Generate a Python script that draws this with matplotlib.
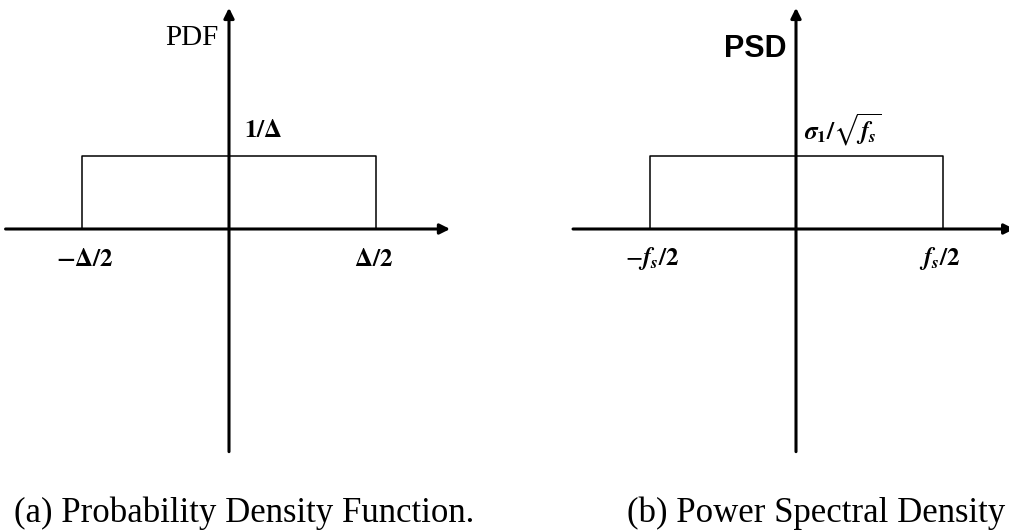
import matplotlib
matplotlib.use("Agg")
from matplotlib import pyplot as plt

plt.rcParams["mathtext.fontset"] = "stix"

# rectangle edges (in units of delta / fs) and level
pdf_edges = [-0.5, 0.5]
pdf_level = 1.0
psd_edges = [-0.5, 0.5]
psd_level = 1.0

pdf_ticks = [r"$\mathbf{-\Delta/2}$", r"$\mathbf{\Delta/2}$"]
psd_ticks = [r"$-\mathbfit{f}_\mathbfit{s}\mathbf{/2}$", r"$\mathbfit{f}_\mathbfit{s}\mathbf{/2}$"]
pdf_level_label = r"$\mathbf{1/\Delta}$"
psd_level_label = r"$\mathbfit{\sigma}_\mathbf{1}\mathbf{/}\sqrt{\mathbfit{f}_\mathbfit{s}}$"
captions = ["(a) Probability Density Function.", "(b) Power Spectral Density"]

W, H = 1009, 531


def arrow(ax, start, end):
    ax.annotate("", xy=end, xytext=start,
                arrowprops=dict(arrowstyle="-|>", lw=2.2, color="k",
                                mutation_scale=15, shrinkA=0, shrinkB=0),
                annotation_clip=False)


def panel(ax, edges, level, ticks, level_label, label_x, xmin, xmax):
    x = [edges[0], edges[0], edges[1], edges[1]]
    y = [0, level, level, 0]
    ax.plot(x, y, color="k", lw=1.1)
    arrow(ax, (xmin, 0), (xmax, 0))
    arrow(ax, (0, -3.05), (0, 3.03))
    for e, t in zip(edges, ticks):
        ax.text(e * 0.98, -0.41, t, fontsize=18, ha="center", va="center")
    ax.text(label_x, level + 0.36, level_label, fontsize=18, ha="left", va="center")
    ax.axis("off")


fig = plt.figure(figsize=(W / 100, H / 100), dpi=100)

# left panel: pixels x 0..460, y 0..460 ; origin at (229, 229), 294 px/unit in x, 73 px/unit in y
ax1 = fig.add_axes([0, (H - 460) / H, 460 / W, 460 / H])
ax1.set_xlim((0 - 229) / 294, (460 - 229) / 294)
ax1.set_ylim((229 - 460) / 73, 229 / 73)
panel(ax1, pdf_edges, pdf_level, pdf_ticks, pdf_level_label, 0.05, -0.76, 0.752)
ax1.text(-0.037, 2.52, "PDF", fontsize=21, family="Liberation Serif", ha="right", va="baseline")

# right panel: pixels x 560..1009 ; origin at (796, 229)
ax2 = fig.add_axes([560 / W, (H - 460) / H, 449 / W, 460 / H])
ax2.set_xlim((560 - 796) / 293, (1009 - 796) / 293)
ax2.set_ylim((229 - 460) / 73, 229 / 73)
panel(ax2, psd_edges, psd_level, psd_ticks, psd_level_label, 0.028, -0.761, 0.745)
ax2.text(-0.031, 2.36, "PSD", fontsize=22, family="Liberation Sans", weight="bold",
         ha="right", va="baseline")

fig.text(14 / W, 1 - 522 / H, captions[0], fontsize=25, family="Liberation Serif", va="baseline")
fig.text(627 / W, 1 - 522 / H, captions[1], fontsize=25, family="Liberation Serif", va="baseline")

fig.savefig("out.png", dpi=100)
